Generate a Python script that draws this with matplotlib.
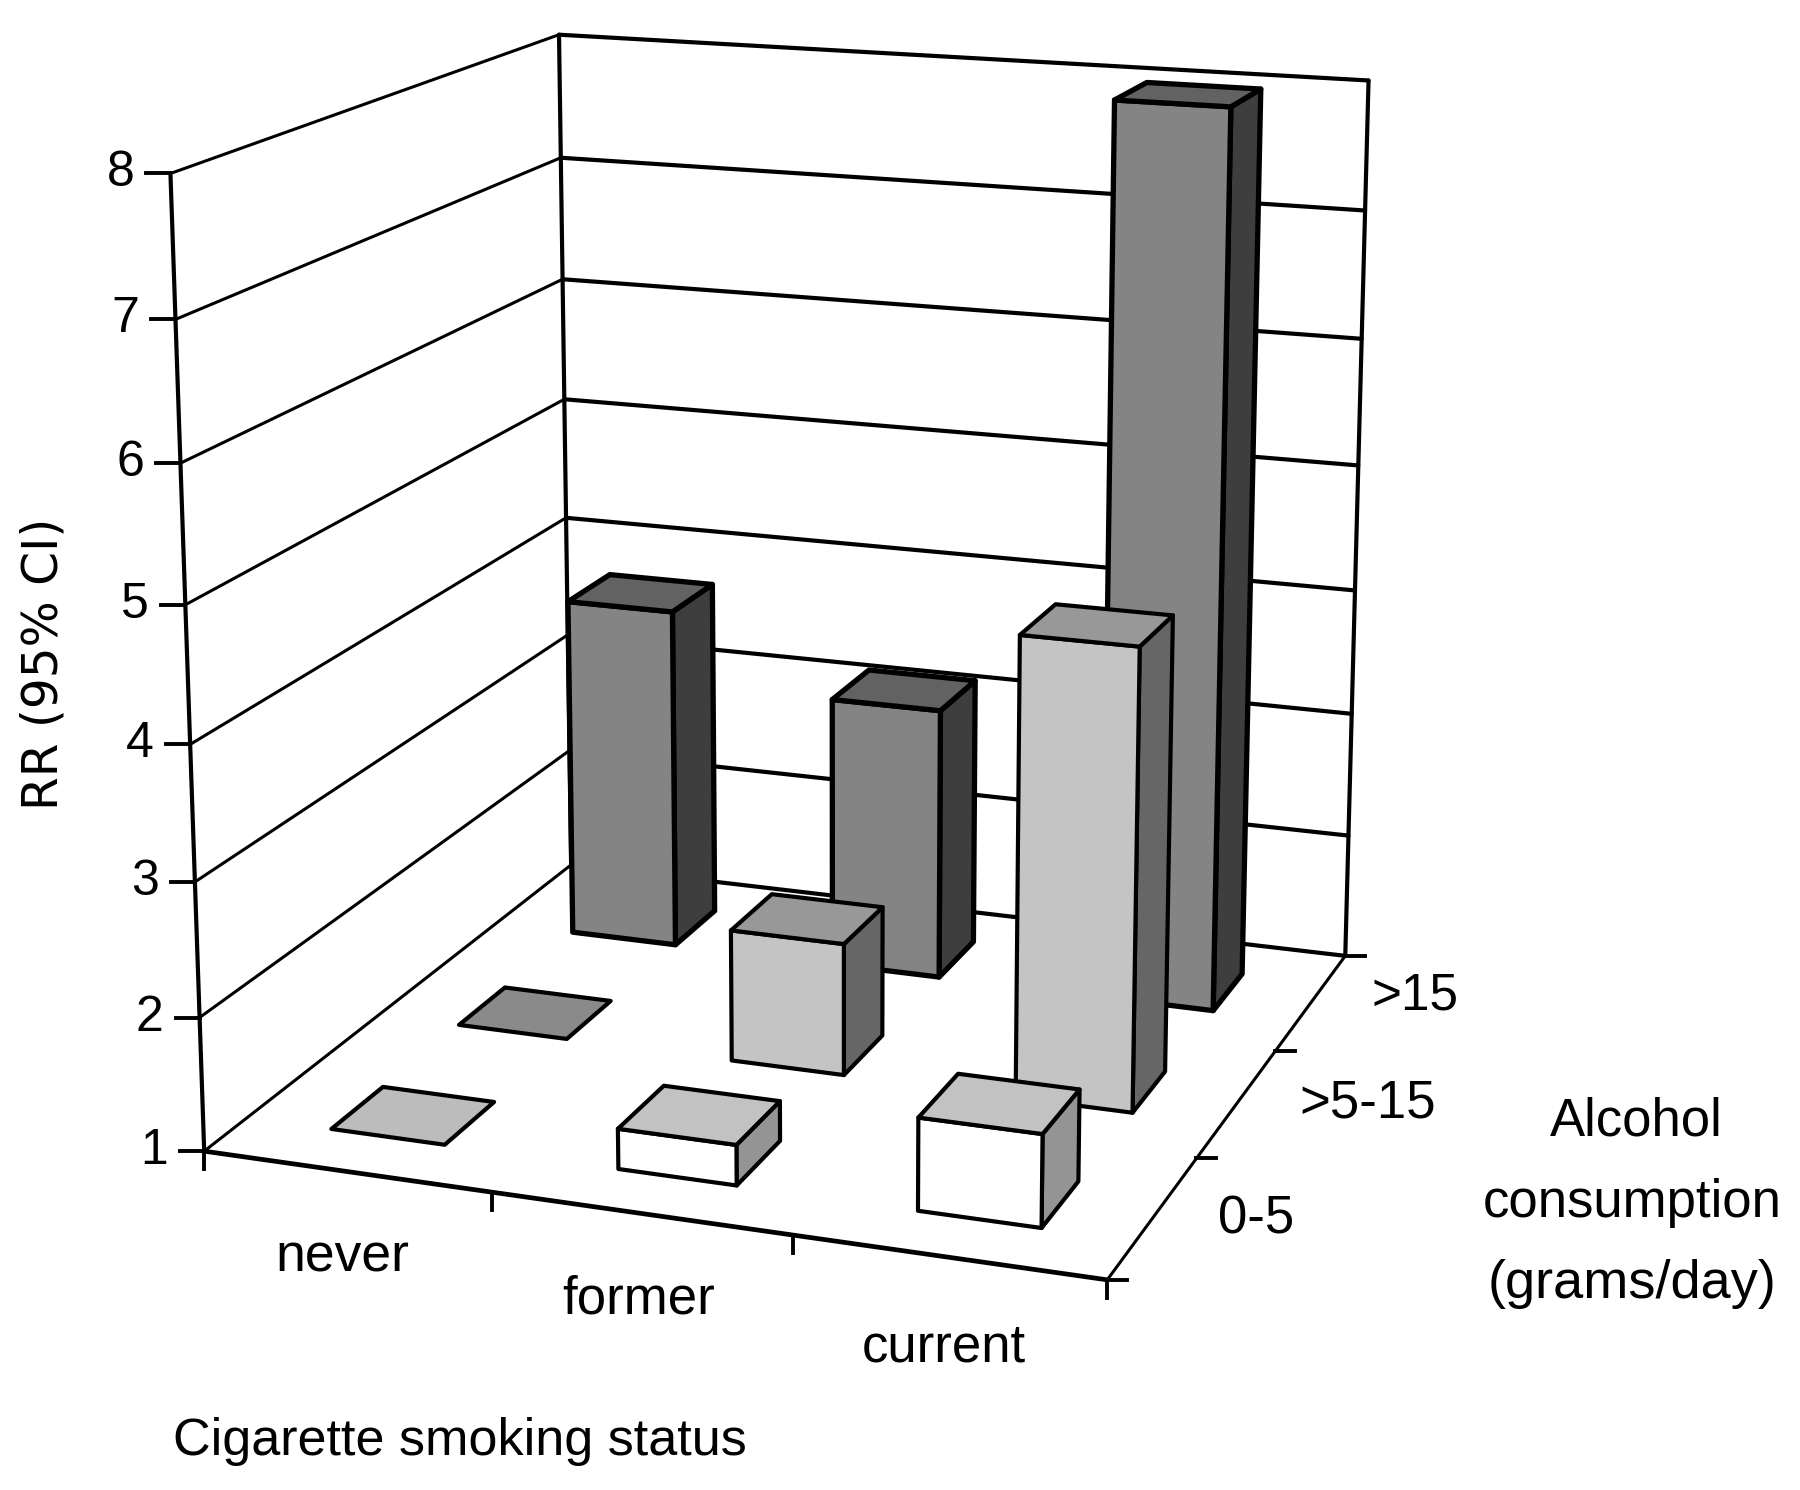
import matplotlib
matplotlib.use("Agg")
import matplotlib.pyplot as plt
import numpy as np
from matplotlib.patches import Polygon

plt.rcParams["font.family"] = ["Liberation Sans", "DejaVu Sans"]

smoking_status = ["never", "former", "current"]
alcohol_levels = ["0-5", ">5-15", ">15"]
rr_ticks = [1, 2, 3, 4, 5, 6, 7, 8]

rr_alcohol_0_5 = [1.0, 1.3, 1.68]
rr_alcohol_5_15 = [1.0, 2.02, 4.5]
rr_alcohol_15 = [3.75, 3.17, 8.0]

# camera fitted on the panel corners: (smoking, alcohol, rr) -> pixel
PANEL_ANCHORS = [
    ((0, 0, 1), (205, 1151)), ((0, 0, 8), (170, 175)),
    ((0, 3, 1), (571, 866)), ((0, 3, 8), (560, 33)),
    ((3, 3, 1), (1345, 953)), ((3, 3, 8), (1368, 81)),
    ((3, 0, 1), (1107, 1282)),
    ((0, 0, 4), (190, 741)), ((0, 3, 4), (565, 520)), ((3, 3, 4), (1356, 591)),
]

BAR_WIDTH = 0.40
BAR_DEPTH = 0.39
LINE = "#000000"
# front, top, side greys per alcohol level
FACE_GREYS = [("#ffffff", "#c2c2c2", "#949494"),
              ("#c4c4c4", "#989898", "#666666"),
              ("#848484", "#626262", "#3e3e3e")]
FLAT_GREYS = ["#bcbcbc", "#8a8a8a", "#666666"]


def fit_camera(anchors):
    rows = []
    for (x, y, z), (u, v) in anchors:
        rows.append([x, y, z, 1, 0, 0, 0, 0, -u * x, -u * y, -u * z, -u])
        rows.append([0, 0, 0, 0, x, y, z, 1, -v * x, -v * y, -v * z, -v])
    _, _, vh = np.linalg.svd(np.asarray(rows, dtype=float))
    return vh[-1].reshape(3, 4)


CAMERA = fit_camera(PANEL_ANCHORS)


def project(x, y, z):
    u, v, w = CAMERA @ np.array([x, y, z, 1.0])
    return u / w, v / w


def line3d(ax, a, b, lw=3.0, zorder=2):
    pa, pb = project(*a), project(*b)
    ax.plot([pa[0], pb[0]], [pa[1], pb[1]], color=LINE, lw=lw, zorder=zorder, solid_capstyle="round")


def face(ax, corners, color, lw, zorder):
    ax.add_patch(Polygon([project(*c) for c in corners], closed=True, facecolor=color,
                         edgecolor=LINE, lw=lw, joinstyle="round", zorder=zorder))


def draw_bar(ax, i, j, rr, zorder):
    x0, x1 = i + 0.5 - BAR_WIDTH / 2, i + 0.5 + BAR_WIDTH / 2
    y0, y1 = j + 0.5 - BAR_DEPTH / 2, j + 0.5 + BAR_DEPTH / 2
    front, top, side = FACE_GREYS[j]
    lw = 3.8 if j == 2 else 3.0
    if rr <= 1.0:
        face(ax, [(x0, y0, 1), (x1, y0, 1), (x1, y1, 1), (x0, y1, 1)], FLAT_GREYS[j], 3.0, zorder)
        return
    face(ax, [(x1, y0, 1), (x1, y1, 1), (x1, y1, rr), (x1, y0, rr)], side, lw, zorder)
    face(ax, [(x0, y0, 1), (x1, y0, 1), (x1, y0, rr), (x0, y0, rr)], front, lw, zorder)
    face(ax, [(x0, y0, rr), (x1, y0, rr), (x1, y1, rr), (x0, y1, rr)], top, lw, zorder)


fig = plt.figure(figsize=(18, 14.9), dpi=100)
ax = fig.add_axes([0, 0, 1, 1])
ax.set_xlim(0, 1800)
ax.set_ylim(1490, 0)
ax.axis("off")

# walls
for rr in rr_ticks:
    line3d(ax, (0, 0, rr), (0, 3, rr), lw=2.2)
    line3d(ax, (0, 3, rr), (3, 3, rr))
    u, v = project(0, 0, rr)
    ax.plot([u - 24, u], [v, v], color=LINE, lw=2.8, zorder=2)
    ax.text(u - 50, v, str(rr), fontsize=36, ha="center", va="center", zorder=5)
line3d(ax, (0, 0, 1), (0, 0, 8))
line3d(ax, (0, 3, 1), (0, 3, 8))
line3d(ax, (3, 3, 1), (3, 3, 8))

# floor edges and ticks
line3d(ax, (0, 0, 1), (3, 0, 1), lw=3.4)
line3d(ax, (3, 0, 1), (3, 3, 1), lw=2.2)
for i in range(4):
    u, v = project(i, 0, 1)
    ax.plot([u, u], [v, v + 18], color=LINE, lw=2.8, zorder=2)
for j in range(4):
    u, v = project(3, j, 1)
    ax.plot([u, u + 20], [v, v], color=LINE, lw=2.8, zorder=2)

# bars, back row first, left to right
rr_rows = [rr_alcohol_0_5, rr_alcohol_5_15, rr_alcohol_15]
z = 3
for j in [2, 1, 0]:
    for i, rr in enumerate(rr_rows[j]):
        draw_bar(ax, i, j, rr, z)
        z += 1

# text
ax.text(44, 664, "RR (95% CI)", fontsize=35, family="DejaVu Sans", rotation=90, ha="center", va="center")
ax.text(342, 1258, smoking_status[0], fontsize=38.5, ha="center", va="center")
ax.text(639, 1300, smoking_status[1], fontsize=38, ha="center", va="center")
ax.text(944, 1348, smoking_status[2], fontsize=38, ha="center", va="center")
ax.text(460, 1442, "Cigarette smoking status", fontsize=37.5, ha="center", va="center")
ax.text(1256, 1220, alcohol_levels[0], fontsize=38, ha="center", va="center")
ax.text(1368, 1103, alcohol_levels[1], fontsize=38, ha="center", va="center")
ax.text(1415, 996, alcohol_levels[2], fontsize=37, ha="center", va="center")
ax.text(1636, 1122, "Alcohol", fontsize=38, ha="center", va="center")
ax.text(1632, 1203, "consumption", fontsize=38, ha="center", va="center")
ax.text(1632, 1284, "(grams/day)", fontsize=39, ha="center", va="center")

fig.savefig("out.png", dpi=100)
